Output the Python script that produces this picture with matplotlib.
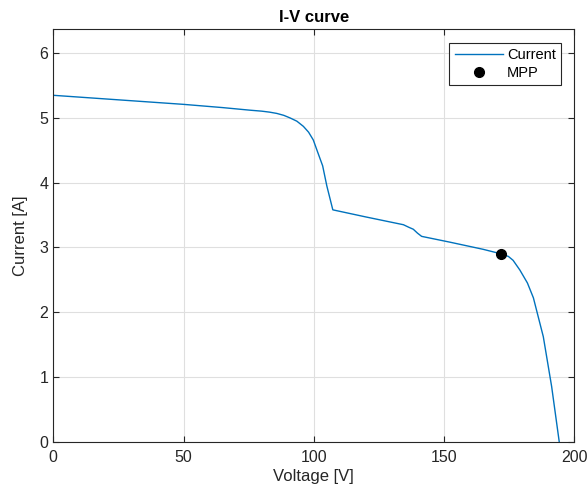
import matplotlib
matplotlib.use("Agg")
import matplotlib.pyplot as plt

plt.rcParams['font.family'] = ['Liberation Sans', 'DejaVu Sans']

# I-V characteristic of the PV string
voltage = [0, 25, 50, 65, 75.5, 80, 83.0, 85.8, 88.5, 90.9, 93.5, 96.0, 98.0, 99.8, 101.5,
           103.4, 105.0, 107.3, 120.0, 134.4, 136.5, 138.2, 139.8, 141.4, 152.3,
           165.0, 171.9, 174.7, 176.5, 179.1, 182.0, 184.3, 188.1, 191.3, 194.2]
current = [5.35, 5.28, 5.21, 5.16, 5.12, 5.105, 5.09, 5.07, 5.04, 5.00, 4.95, 4.87, 4.78, 4.66, 4.47,
           4.26, 3.95, 3.58, 3.47, 3.35, 3.31, 3.28, 3.22, 3.17, 3.08,
           2.97, 2.90, 2.86, 2.80, 2.65, 2.45, 2.22, 1.62, 0.85, 0.0]

# Maximum power point
mpp_v = [171.9]
mpp_i = [2.90]

xticks = [0, 50, 100, 150, 200]
yticks = [0, 1, 2, 3, 4, 5, 6]

W, H = 587, 493
fig = plt.figure(figsize=(W / 100, H / 100), dpi=100)
ax = fig.add_axes([53.3 / W, 1 - 441.5 / H, (574.3 - 53.3) / W, (441.5 - 29.3) / H])

ax.plot(voltage, current, color='#0072BD', lw=1.0, label='Current')
ax.plot(mpp_v, mpp_i, 'o', color='black', markersize=7, label='MPP', zorder=5)

ax.set_xlim(0, 200)
ax.set_ylim(0, 6.37)
ax.set_xticks(xticks)
ax.set_yticks(yticks)

axis_col = '#262626'
ax.grid(True, color='#dfdfdf', lw=0.8)
ax.set_axisbelow(True)
for s in ax.spines.values():
    s.set_color(axis_col)
    s.set_linewidth(0.8)
ax.tick_params(direction='in', top=True, right=True, length=4, width=0.8,
               colors=axis_col, labelsize=11.5, labelcolor=axis_col)
ax.tick_params(axis='x', pad=6)

ax.set_xlabel('Voltage [V]', fontsize=12, color=axis_col, labelpad=3)
ax.set_ylabel('Current [A]', fontsize=12, color=axis_col, labelpad=8)
ax.set_title('I-V curve', fontsize=12, fontweight='bold', color='black', pad=5)

leg = ax.legend(loc='upper right', fontsize=10.5, frameon=True, fancybox=False,
                edgecolor=axis_col, framealpha=1, borderpad=0.35, handlelength=3.3,
                handletextpad=0.3, labelspacing=0.25, borderaxespad=0,
                bbox_to_anchor=(0.9745, 0.9668))
leg.get_frame().set_linewidth(0.8)

fig.savefig('out.png', dpi=100)
